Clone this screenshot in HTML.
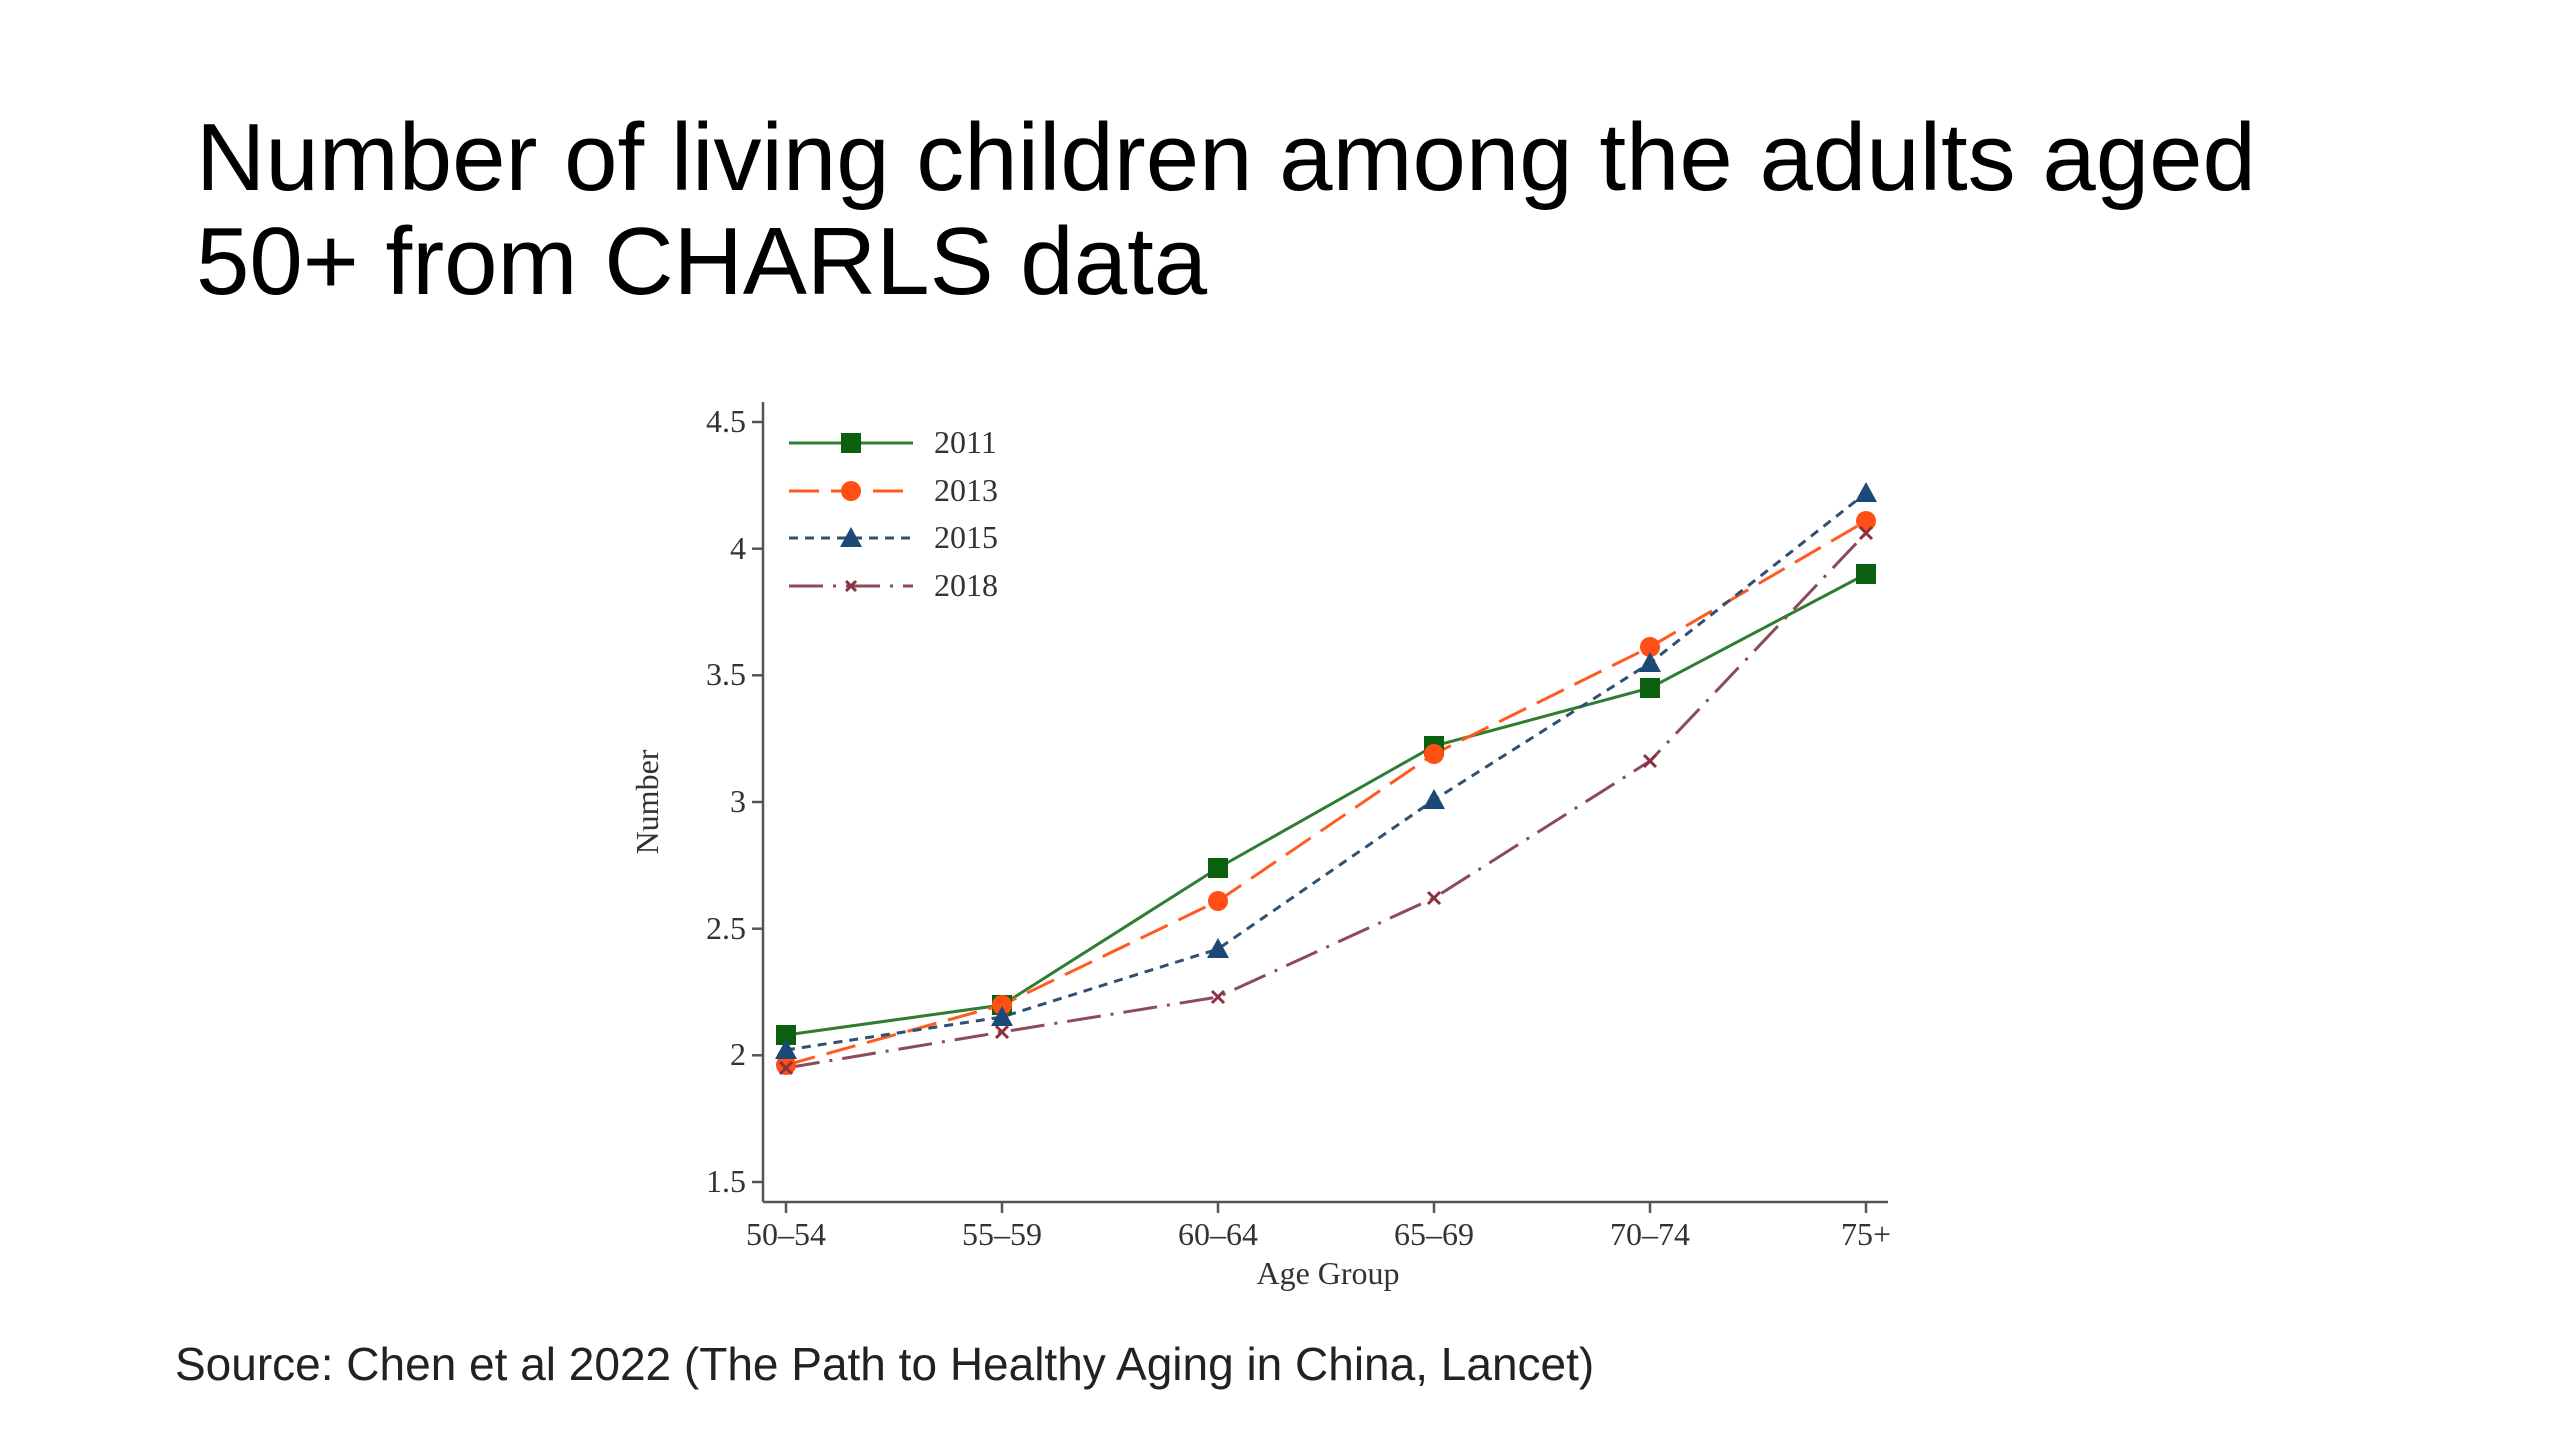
<!DOCTYPE html>
<html><head><meta charset="utf-8"><style>
html,body{margin:0;padding:0;background:#fff;}
body{width:2560px;height:1440px;position:relative;overflow:hidden;}
.title{position:absolute;left:196px;top:106px;font-family:"Liberation Sans",sans-serif;font-size:96px;line-height:104px;color:#000;}
.src{position:absolute;left:175px;top:1337px;font-family:"Liberation Sans",sans-serif;font-size:46px;color:#222;}
svg{position:absolute;left:0;top:0;}
</style></head><body>
<div class="title">Number of living children among the adults aged<br>50+ from CHARLS data</div>
<svg width="2560" height="1440" font-family="Liberation Serif, serif" font-size="32" fill="#333">
<g stroke="#555" stroke-width="2.5">
<line x1="763" y1="402" x2="763" y2="1202"/>
<line x1="763" y1="1202" x2="1888" y2="1202"/>
<line x1="752" y1="422" x2="763" y2="422"/><line x1="752" y1="548.7" x2="763" y2="548.7"/><line x1="752" y1="675.3" x2="763" y2="675.3"/><line x1="752" y1="802" x2="763" y2="802"/><line x1="752" y1="928.7" x2="763" y2="928.7"/><line x1="752" y1="1055.3" x2="763" y2="1055.3"/><line x1="752" y1="1182" x2="763" y2="1182"/>
<line x1="786" y1="1202" x2="786" y2="1213"/><line x1="1002" y1="1202" x2="1002" y2="1213"/><line x1="1218" y1="1202" x2="1218" y2="1213"/><line x1="1434" y1="1202" x2="1434" y2="1213"/><line x1="1650" y1="1202" x2="1650" y2="1213"/><line x1="1866" y1="1202" x2="1866" y2="1213"/>
</g>
<g text-anchor="end">
<text x="746" y="432">4.5</text><text x="746" y="559">4</text><text x="746" y="685">3.5</text><text x="746" y="812">3</text><text x="746" y="939">2.5</text><text x="746" y="1065">2</text><text x="746" y="1192">1.5</text>
</g>
<g text-anchor="middle">
<text x="786" y="1245">50–54</text><text x="1002" y="1245">55–59</text><text x="1218" y="1245">60–64</text><text x="1434" y="1245">65–69</text><text x="1650" y="1245">70–74</text><text x="1866" y="1245">75+</text>
<text x="1328" y="1284">Age Group</text>
<text transform="translate(658,802) rotate(-90)">Number</text>
</g>
<polyline fill="none" stroke="#2e7d32" stroke-width="3" points="786,1035 1002,1005 1218,868 1434,746 1650,688 1866,574"/>
<polyline fill="none" stroke="#ff5a1f" stroke-width="3" stroke-dasharray="30,12" points="786,1065 1002,1005 1218,901 1434,754 1650,647 1866,521"/>
<polyline fill="none" stroke="#2f5070" stroke-width="3" stroke-dasharray="9,7" points="786,1050 1002,1017 1218,949 1434,800 1650,663 1866,493"/>
<polyline fill="none" stroke="#8c4a5a" stroke-width="3" stroke-dasharray="34,10,3,10" points="786,1068 1002,1032 1218,997 1434,898 1650,761 1866,533"/>
<g fill="#0b6010">
<rect x="776" y="1025" width="20" height="20"/><rect x="992" y="995" width="20" height="20"/><rect x="1208" y="858" width="20" height="20"/><rect x="1424" y="736" width="20" height="20"/><rect x="1640" y="678" width="20" height="20"/><rect x="1856" y="564" width="20" height="20"/>
</g>
<g fill="#ff4f14">
<circle cx="786" cy="1065" r="10"/><circle cx="1002" cy="1005" r="10"/><circle cx="1218" cy="901" r="10"/><circle cx="1434" cy="754" r="10"/><circle cx="1650" cy="647" r="10"/><circle cx="1866" cy="521" r="10"/>
</g>
<g fill="#1b4a78">
<path d="M786,1039 l11,20 h-22z"/><path d="M1002,1006 l11,20 h-22z"/><path d="M1218,938 l11,20 h-22z"/><path d="M1434,789 l11,20 h-22z"/><path d="M1650,652 l11,20 h-22z"/><path d="M1866,482 l11,20 h-22z"/>
</g>
<g stroke="#8a3040" stroke-width="3">
<path d="M780,1062l12,12M792,1062l-12,12"/><path d="M996,1026l12,12M1008,1026l-12,12"/><path d="M1212,991l12,12M1224,991l-12,12"/><path d="M1428,892l12,12M1440,892l-12,12"/><path d="M1644,755l12,12M1656,755l-12,12"/><path d="M1860,527l12,12M1872,527l-12,12"/>
</g>
<line x1="789" y1="443" x2="913" y2="443" stroke="#2e7d32" stroke-width="3"/>
<rect x="841" y="433" width="20" height="20" fill="#0b6010"/>
<line x1="789" y1="491" x2="913" y2="491" stroke="#ff5a1f" stroke-width="3" stroke-dasharray="30,12"/>
<circle cx="851" cy="491" r="10" fill="#ff4f14"/>
<line x1="789" y1="538" x2="913" y2="538" stroke="#2f5070" stroke-width="3" stroke-dasharray="9,7"/>
<path d="M851,527 l11,20 h-22z" fill="#1b4a78"/>
<line x1="789" y1="586" x2="913" y2="586" stroke="#8c4a5a" stroke-width="3" stroke-dasharray="34,10,3,10"/>
<path d="M846,581l10,10M856,581l-10,10" stroke="#8a3040" stroke-width="3"/>
<text x="934" y="453">2011</text><text x="934" y="501">2013</text><text x="934" y="548">2015</text><text x="934" y="596">2018</text>
</svg>
<div class="src">Source: Chen et al 2022 (The Path to Healthy Aging in China, Lancet)</div>
</body></html>
